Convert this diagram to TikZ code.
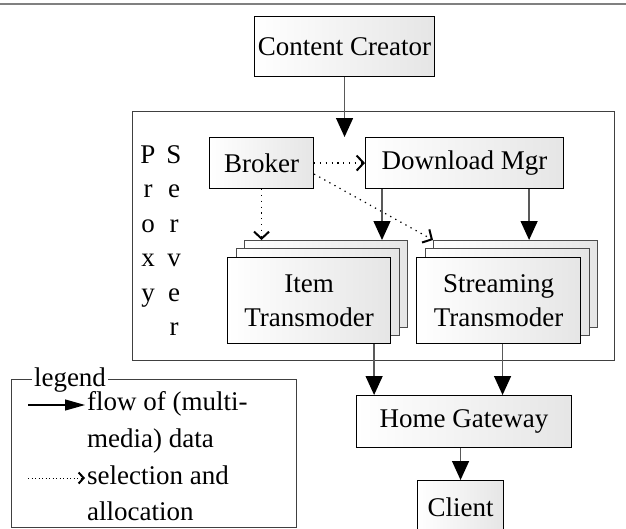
\documentclass[tikz,border=0pt]{standalone}
\usepackage{fontspec}
\setmainfont{Liberation Serif}
\usetikzlibrary{arrows.meta,calc}
\begin{document}
\begin{tikzpicture}[x=1pt,y=-1pt,
  every node/.style={font=\fontsize{27}{34}\selectfont},
  box/.style={draw=black, line width=1.1pt, left color=white, right color=black!10, anchor=north west, inner sep=0pt, align=center},
  backbox/.style={draw=black!70, line width=1pt, left color=white, right color=black!10, anchor=north west, inner sep=0pt},
  frame/.style={draw=black!75, line width=1pt, anchor=north west, inner sep=0pt},
  flow/.style={draw=black!65, line width=1.3pt, -{Triangle[length=19pt,width=17pt,color=black]}},
  sel/.style={draw=black, line width=1.2pt, dash pattern=on 1.3pt off 4.5pt, -{Straight Barb[length=7pt,width=15pt,line width=2pt,color=black]}},
  flowleg/.style={draw=black, line width=1.1pt, -{Triangle[length=20pt,width=11pt,color=black]}},
  selleg/.style={draw=black, line width=1pt, dash pattern=on 1pt off 2.5pt, -{Straight Barb[length=5pt,width=11pt,line width=2pt,color=black]}},
  letter/.style={anchor=base, inner sep=0pt},
  legtext/.style={anchor=base west, inner sep=0pt}
]
\useasboundingbox (0,0) rectangle (626,528);
\draw[black!50, line width=2.5pt] (0,4) -- (626,4);

% proxy frame
\node[frame, minimum width=482pt, minimum height=249pt] (proxy) at (132,111) {};
\foreach \c [count=\i] in {P,r,o,x,y}
  \node[letter] (pa\i) at (148,{163+34.5*(\i-1)}) {\c};
\foreach \c [count=\i] in {S,e,r,v,e,r}
  \node[letter] (pb\i) at (174,{163+34.5*(\i-1)}) {\c};

% boxes
\node[box, minimum width=180pt, minimum height=60pt] (cc) at (254,16) {Content Creator};
\node[box, minimum width=104pt, minimum height=51pt] (broker) at (209,137) {Broker};
\node[box, minimum width=198pt, minimum height=51pt] (dm) at (365,137) {Download Mgr};

\node[backbox, minimum width=163pt, minimum height=87pt] (itemB) at (244,240) {};
\node[backbox, minimum width=163pt, minimum height=87pt] (itemM) at (236,248) {};
\node[box, minimum width=163pt, minimum height=86pt] (itemF) at (227,257) {Item\\Transmoder};

\node[backbox, minimum width=164pt, minimum height=87pt] (strB) at (433,240) {};
\node[backbox, minimum width=164pt, minimum height=87pt] (strM) at (425,248) {};
\node[box, minimum width=164pt, minimum height=86pt] (strF) at (416,257) {Streaming\\Transmoder};

\node[box, minimum width=215pt, minimum height=52pt] (hg) at (356,395) {Home Gateway};
\node[box, minimum width=86pt, minimum height=54pt] (client) at (417,480) {Client};

% connectors
\draw[flow] (cc.south) -- (cc.south |- dm.north);
\draw[sel] (broker.east) -- (dm.west);
\draw[sel] (broker.south) -- (broker.south |- itemB.north);
\draw[sel] ([yshift=-11pt]broker.east) -- (strB.north west);
\draw[flow] ([xshift=17pt]dm.south west) -- ([xshift=17pt]dm.south west |- itemB.north);
\draw[flow] ([xshift=-35pt]dm.south east) -- ([xshift=-35pt]dm.south east |- strB.north);
\draw[flow] ([xshift=-17pt]itemF.south east) -- ([xshift=-17pt]itemF.south east |- hg.north);
\draw[flow] ([xshift=4pt]strF.south) -- ([xshift=4pt]strF.south |- hg.north);
\draw[flow] (hg.south -| client.north) -- (client.north);

% legend
\node[frame, minimum width=285pt, minimum height=148pt] (legend) at (11,379) {};
\node[fill=white, inner sep=2pt, anchor=base] (legtitle) at (70,386) {legend};
\node[legtext] (leg1) at (87,410) {flow of (multi-};
\node[legtext] (leg1b) at (87,447) {media) data};
\node[legtext] (leg2) at (87,484) {selection and};
\node[legtext] (leg2b) at (87,520) {allocation};
\coordinate (la) at (28,405);
\coordinate (lb) at (28,478);
\draw[flowleg] (la) -- ([xshift=-2pt]la -| leg1.west);
\draw[selleg] (lb) -- ([xshift=-2pt]lb -| leg2.west);
\end{tikzpicture}
\end{document}
